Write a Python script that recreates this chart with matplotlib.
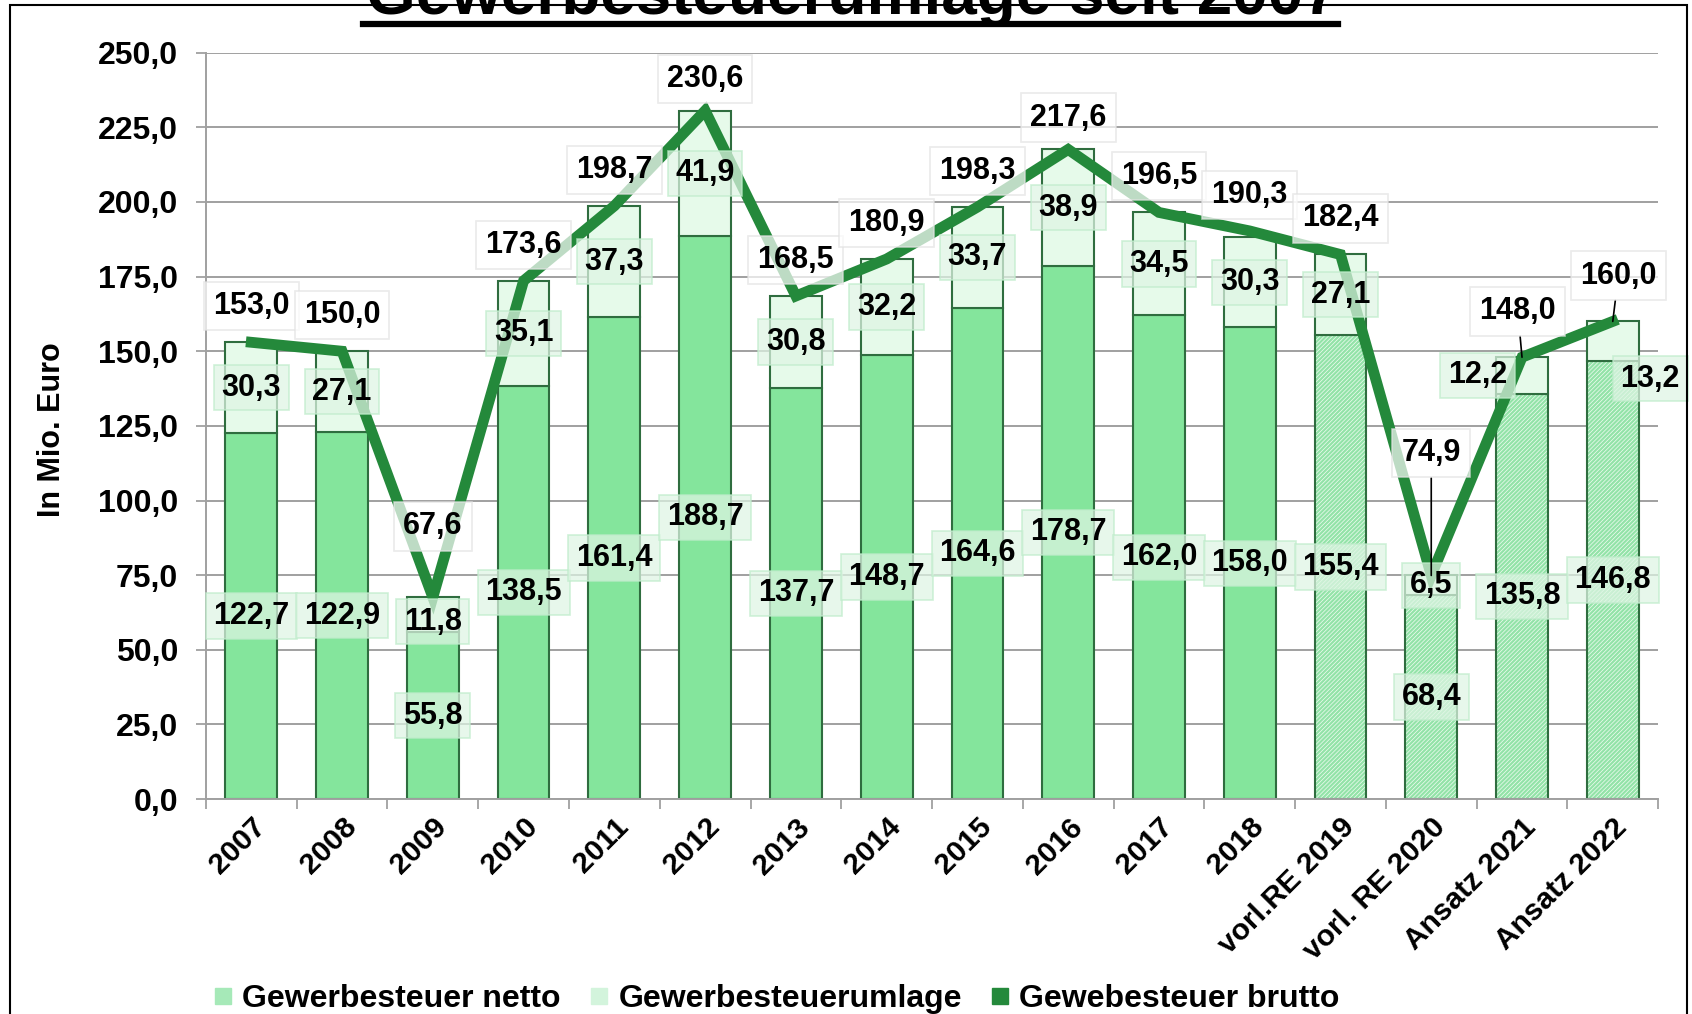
import numpy as np
import matplotlib
matplotlib.use("Agg")
import matplotlib.pyplot as plt
from matplotlib.lines import Line2D
from matplotlib.patches import Rectangle

plt.rcParams['font.family'] = ['Liberation Sans', 'DejaVu Sans']
plt.rcParams['font.weight'] = 'bold'
plt.rcParams['hatch.linewidth'] = 1.6

categories = ["2007", "2008", "2009", "2010", "2011", "2012", "2013", "2014",
              "2015", "2016", "2017", "2018", "vorl.RE 2019", "vorl. RE 2020",
              "Ansatz 2021", "Ansatz 2022"]
netto = [122.7, 122.9, 55.8, 138.5, 161.4, 188.7, 137.7, 148.7,
         164.6, 178.7, 162.0, 158.0, 155.4, 68.4, 135.8, 146.8]
umlage = [30.3, 27.1, 11.8, 35.1, 37.3, 41.9, 30.8, 32.2,
          33.7, 38.9, 34.5, 30.3, 27.1, 6.5, 12.2, 13.2]
brutto = [153.0, 150.0, 67.6, 173.6, 198.7, 230.6, 168.5, 180.9,
          198.3, 217.6, 196.5, 190.3, 182.4, 74.9, 148.0, 160.0]
n_planned = 4  # last bars are estimates (hatched)

# label placement tweaks (offset points)
brutto_dy = [26, 26, 51, 26, 26, 23, 26, 26, 26, 23, 26, 26, 26, 88, 33, 33]
brutto_dx = [0] * 13 + [0, -3, 4]
leader = [False] * 13 + [True, True, True]
umlage_dx = [0] * 14 + [-32, 27]
umlage_dy = [0, 0, -5] + [0] * 12 + [-27]

def fmt(v):
    return f"{v:.1f}".replace('.', ',')

C_NETTO = '#84e59c'
C_UMLAGE = '#e6faea'
C_EDGE = '#2f6d3f'
C_LINE = '#24893b'

fig = plt.figure(figsize=(16.92, 10.14), dpi=100)
ax = fig.add_axes([0.1217, 0.212, 0.8583, 0.736])

x = np.arange(len(categories))
w = 0.57
solid = len(categories) - n_planned

ax.bar(x[:solid], netto[:solid], w, color=C_NETTO, edgecolor=C_EDGE, lw=1.5, zorder=2)
# hatched estimate bars: hatch layer, then outline
ax.bar(x[solid:], netto[solid:], w, color='#f0fcf2', edgecolor='#93e3a8', lw=0,
       hatch='////////', zorder=2)
ax.bar(x[solid:], netto[solid:], w, color='none', edgecolor=C_EDGE, lw=1.5, zorder=2)
ax.bar(x, umlage, w, bottom=netto, color=C_UMLAGE, edgecolor=C_EDGE, lw=1.5, zorder=2)

ax.plot(x, brutto, color=C_LINE, lw=7.8, solid_joinstyle='miter', zorder=3)

box_green = dict(boxstyle='square,pad=0.25', fc='#dff5e4', ec='#bfeccb', lw=1.2, alpha=0.72)
box_white = dict(boxstyle='square,pad=0.3', fc='white', ec='#e2e2e2', lw=1.2, alpha=0.7)

for i in range(len(categories)):
    ax.annotate(fmt(netto[i]), (x[i], netto[i] / 2), ha='center', va='center',
                fontsize=22, bbox=box_green, zorder=5)
    ax.annotate(fmt(umlage[i]), (x[i], netto[i] + umlage[i] / 2),
                xytext=(umlage_dx[i], umlage_dy[i]), textcoords='offset points',
                ha='center', va='center', fontsize=22, bbox=box_green, zorder=5)
    ap = dict(arrowstyle='-', color='black', lw=1.2, shrinkA=0, shrinkB=0) if leader[i] else None
    ax.annotate(fmt(brutto[i]), (x[i], brutto[i]),
                xytext=(brutto_dx[i], brutto_dy[i]), textcoords='offset points',
                ha='center', va='center', fontsize=22, bbox=box_white,
                arrowprops=ap, zorder=6)

ax.set_xlim(-0.5, len(categories) - 0.5)
ax.set_ylim(0, 250)
yt = np.arange(0, 251, 25)
ax.set_yticks(yt)
ax.set_yticklabels([fmt(v) for v in yt], fontsize=23)
ax.tick_params(axis='y', length=7, color='#a0a0a0', width=1.3, pad=13)
ax.grid(axis='y', color='#a0a0a0', lw=1.4, zorder=0)
ax.set_axisbelow(True)

ax.set_xticks(np.arange(len(categories) + 1) - 0.5)
ax.set_xticklabels([])
ax.tick_params(axis='x', which='major', length=7, color='#a0a0a0', width=1.3)
ax.set_xticks(x, minor=True)
ax.set_xticklabels(categories, minor=True, rotation=45, ha='right', va='top',
                   rotation_mode='anchor', fontsize=21.5)
ax.tick_params(axis='x', which='minor', length=0, pad=10)

for s in ['top', 'right']:
    ax.spines[s].set_visible(False)
for s in ['left', 'bottom']:
    ax.spines[s].set_color('#a0a0a0')
    ax.spines[s].set_linewidth(1.4)

fig.text(52 / 1692, 1 - 430 / 1014, 'In Mio. Euro', rotation=90, ha='center',
         va='center', fontsize=22)

# title (cut off at top as in original) with underline
fig.text(852 / 1692, 1 - 14 / 1014, 'Gewerbesteuerumlage seit 2007', ha='center',
         va='baseline', fontsize=46)
fig.add_artist(Line2D([363 / 1692, 1338 / 1692], [1 - 24 / 1014] * 2, lw=4.5, color='black'))

# outer frame
fig.add_artist(Rectangle((10 / 1692, -0.05), 1677 / 1692, 1.05 - 5 / 1014,
                         transform=fig.transFigure, fill=False, ec='black', lw=1.5))

handles = [Line2D([], [], marker='s', ls='none', ms=11, color='#a6e9b8'),
           Line2D([], [], marker='s', ls='none', ms=11, color='#d3f4dc'),
           Line2D([], [], marker='s', ls='none', ms=11, color=C_LINE)]
labels = ['Gewerbesteuer netto', 'Gewerbesteuerumlage', 'Gewebesteuer brutto']
fig.legend(handles, labels, loc='center', bbox_to_anchor=(0.459, 1 - 999 / 1014),
           ncol=3, frameon=False, fontsize=23, handlelength=0.6,
           handletextpad=0.3, columnspacing=0.9)

fig.savefig('out.png', dpi=100)
